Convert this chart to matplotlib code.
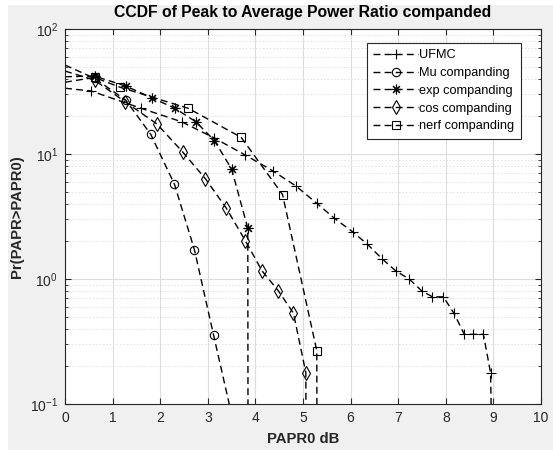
import numpy as np
import matplotlib
matplotlib.use("Agg")
import matplotlib.pyplot as plt
from matplotlib.patches import Rectangle
from matplotlib.ticker import LogLocator, NullFormatter

plt.rcParams['font.family'] = ['Liberation Sans', 'DejaVu Sans']
plt.rcParams['mathtext.fontset'] = 'custom'
plt.rcParams['mathtext.rm'] = 'Liberation Sans'

# PAPR0 (dB) and CCDF (%)
ufmc_x = [0.0, 0.55, 1.60, 2.45, 3.14, 3.79, 4.36, 4.85, 5.29, 5.66, 6.04, 6.35,
          6.67, 6.95, 7.23, 7.49, 7.72, 7.95, 8.17, 8.39, 8.58, 8.79, 8.94, 9.05]
ufmc_y = [33.6, 31.9, 23.2, 18.1, 13.4, 9.8, 7.35, 5.55, 4.03, 3.06, 2.39, 1.90,
          1.44, 1.16, 1.0, 0.806, 0.72, 0.72, 0.532, 0.361, 0.361, 0.361, 0.178, 0.001]

mu_x = [0.0, 0.62, 1.275, 1.80, 2.30, 2.72, 3.12, 3.55]
mu_y = [51.5, 40.3, 27.0, 14.4, 5.72, 1.71, 0.358, 0.068]

exp_x = [0.0, 0.62, 1.275, 1.82, 2.31, 2.75, 3.14, 3.50, 3.84, 3.85]
exp_y = [41.5, 42.0, 35.0, 28.2, 23.2, 18.1, 12.8, 7.59, 2.55, 0.001]

cos_x = [0.0, 0.62, 1.26, 1.93, 2.47, 2.95, 3.39, 3.79, 4.14, 4.48, 4.80, 5.06, 5.07]
cos_y = [46.1, 39.0, 26.2, 17.4, 10.4, 6.34, 3.68, 2.02, 1.16, 0.806, 0.532, 0.178, 0.001]

nerf_x = [0.0, 0.62, 1.155, 2.59, 3.70, 4.57, 5.29, 5.30]
nerf_y = [37.5, 41.0, 34.2, 23.2, 13.6, 4.74, 0.267, 0.001]

# MATLAB-like asterisk: 8 spokes
asterisk = (8, 2, 0)

series = [
    (ufmc_x, ufmc_y, '+', 'UFMC', 7),
    (mu_x, mu_y, 'o', 'Mu companding', 6),
    (exp_x, exp_y, asterisk, 'exp companding', 7),
    (cos_x, cos_y, 'd', 'cos companding', 7),
    (nerf_x, nerf_y, 's', 'nerf companding', 5.5),
]

fig = plt.figure(figsize=(5.53, 4.5), dpi=100, facecolor='white')
fig.patches.append(Rectangle((8 / 553, 0), 1, 1 - 5 / 450, transform=fig.transFigure,
                             facecolor='#f0f0f0', edgecolor='none', zorder=-10))
ax = fig.add_axes([65 / 553, 46 / 450, 476 / 553, 375 / 450])

for xs, ys, mk, lab, ms in series:
    xs = np.array(xs)
    ys = np.array(ys)
    # markers only on the sampled points (not the x=0 start or off-scale tail)
    ax.plot(xs, ys, color='black', linestyle='--', dashes=(5, 3), linewidth=1.0,
            marker=mk, markersize=ms, markerfacecolor='none', markeredgecolor='black',
            markeredgewidth=0.8, markevery=[i for i in range(len(xs)) if xs[i] > 0 and ys[i] > 0.01],
            label=lab)

ax.set_yscale('log')
ax.set_xlim(0, 10)
ax.set_ylim(0.1, 100)
ax.set_xticks(np.arange(0, 11, 1))
ax.yaxis.set_minor_locator(LogLocator(base=10, subs=np.arange(2, 10)))
ax.yaxis.set_minor_formatter(NullFormatter())

ax.grid(True, which='major', color='#dcdcdc', linewidth=0.8, linestyle='-')
ax.grid(True, which='minor', axis='y', color='#e0e0e0', linewidth=0.7, linestyle=(0, (1.5, 2)))
ax.set_axisbelow(True)

ax.tick_params(which='both', direction='in', top=True, right=True, labelsize=10,
               colors='#262626', labelcolor='#262626', pad=5)
ax.tick_params(which='major', length=4)
ax.tick_params(which='minor', length=2)
for sp in ax.spines.values():
    sp.set_color('#262626')
    sp.set_linewidth(0.8)

ax.set_title('CCDF of Peak to Average Power Ratio companded', fontsize=11.3,
             fontweight='bold', pad=9, color='black')
ax.set_xlabel('PAPR0 dB', fontsize=10.7, fontweight='bold', labelpad=5, color='#262626')
ax.set_ylabel('Pr(PAPR>PAPR0)', fontsize=10.7, fontweight='bold', labelpad=4, color='#262626')

leg = ax.legend(loc='upper right', bbox_to_anchor=(0.958, 0.963), fontsize=9.2,
                frameon=True, fancybox=False, edgecolor='#262626', framealpha=1,
                handlelength=3.5, handletextpad=0.1, borderpad=0.5, labelspacing=0.45,
                borderaxespad=0)
leg.get_frame().set_linewidth(0.8)

fig.savefig('out.png', dpi=100, facecolor=fig.get_facecolor())
